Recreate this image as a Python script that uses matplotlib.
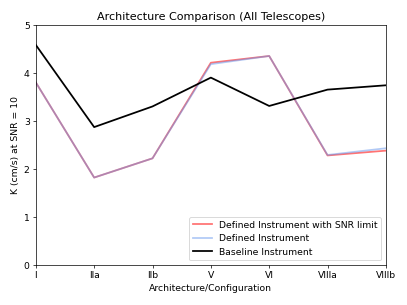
import matplotlib
matplotlib.use("Agg")
import matplotlib.pyplot as plt

configs = ["I", "IIa", "IIb", "V", "VI", "VIIIa", "VIIIb"]
k_snr_limit = [3.80, 1.82, 2.22, 4.21, 4.35, 2.28, 2.38]
k_defined = [3.80, 1.82, 2.22, 4.18, 4.35, 2.29, 2.43]
k_baseline = [4.58, 2.87, 3.30, 3.90, 3.31, 3.65, 3.74]

plt.rcParams['font.size'] = 10.5

x = range(len(configs))

fig, ax = plt.subplots(figsize=(6.4, 4.8), dpi=63.6)
ax.plot(x, k_snr_limit, color='red', alpha=0.55, lw=2, label='Defined Instrument with SNR limit')
ax.plot(x, k_defined, color='cornflowerblue', alpha=0.5, lw=2, label='Defined Instrument')
ax.plot(x, k_baseline, color='k', lw=2, label='Baseline Instrument')
ax.set_xticks(list(x))
ax.set_xticklabels(configs)
ax.set_xlim(0, len(configs) - 1)
ax.set_ylim(0, 5)
ax.set_xlabel("Architecture/Configuration")
ax.set_ylabel("K (cm/s) at SNR = 10")
ax.set_title("Architecture Comparison (All Telescopes)")
ax.legend(loc='lower right')
plt.subplots_adjust(left=0.088, right=0.948, top=0.918, bottom=0.131)
plt.savefig("out.png")
